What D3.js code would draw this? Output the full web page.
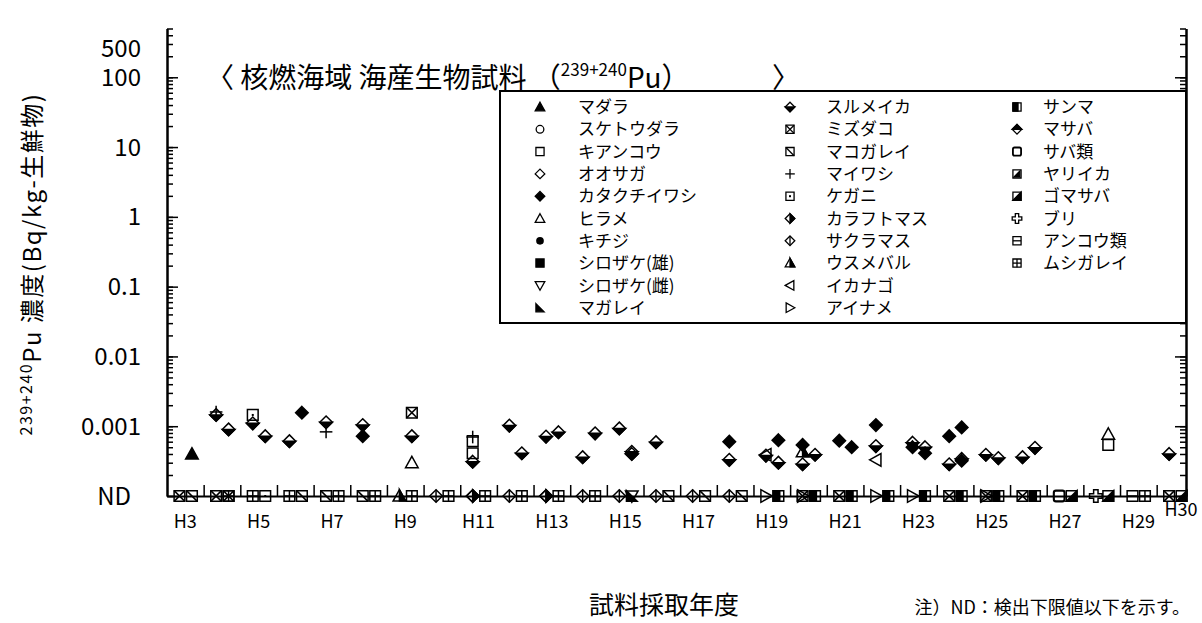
<!DOCTYPE html>
<html>
<head>
<meta charset="utf-8">
<script src="https://cdn.jsdelivr.net/npm/d3@7"></script>
<style>
  body { margin: 0; background: #fff; }
  text { font-family: "Noto Sans CJK JP", "Noto Sans", sans-serif; fill: #000; }
</style>
</head>
<body>
<svg id="chart" width="1202" height="623"></svg>
<script>
var years = ['H3','H4','H5','H6','H7','H8','H9','H10','H11','H12','H13','H14','H15','H16',
             'H17','H18','H19','H20','H21','H22','H23','H24','H25','H26','H27','H28','H29','H30'];
var xLabels = ['H3','H5','H7','H9','H11','H13','H15','H17','H19','H21','H23','H25','H27','H29','H30'];
var yTickValues = [1e-4, 1e-3, 1e-2, 0.1, 1, 10, 100, 500];
var yTickLabels = ['ND', '0.001', '0.01', '0.1', '1', '10', '100', '500'];
var ND = 1e-4;   // 検出下限値以下 -> drawn on the ND line

// [year, slot (0 = first half, 1 = second half), value Bq/kg]
var madara     = [['H3',1,4.0e-4]];
var hirame     = [['H9',1,3.0e-4], ['H28',1,7.7e-4]];
var kiankou    = [['H11',0,6.1e-4], ['H11',0,4.1e-4], ['H28',1,5.4e-4]];
var katakuchi  = [['H6',1,1.56e-3], ['H8',0,7.2e-4], ['H18',0,6.0e-4], ['H19',1,6.3e-4], ['H20',0,5.4e-4],
                  ['H21',0,6.2e-4], ['H21',1,5.0e-4], ['H22',0,1.04e-3], ['H23',0,5.0e-4], ['H23',1,4.1e-4],
                  ['H24',0,7.2e-4], ['H24',1,9.6e-4], ['H24',1,3.2e-4]];
var shirozakeF = [['H15',1,ND]];
var magarei    = [['H15',1,ND]];
var surumeika  = [['H4',0,1.45e-3], ['H4',1,9.0e-4], ['H5',0,1.1e-3], ['H5',1,7.2e-4], ['H6',0,6.1e-4],
                  ['H7',0,1.14e-3], ['H8',0,1.04e-3], ['H9',1,7.2e-4], ['H11',0,3.1e-4], ['H12',0,1.02e-3],
                  ['H12',1,4.1e-4], ['H13',0,7.1e-4], ['H13',1,8.2e-4], ['H14',0,3.6e-4], ['H14',1,7.9e-4],
                  ['H15',0,9.3e-4], ['H15',1,4.3e-4], ['H15',1,4.0e-4], ['H16',0,5.9e-4], ['H18',0,3.3e-4],
                  ['H19',0,3.8e-4], ['H19',1,3.0e-4], ['H20',0,2.85e-4], ['H20',1,3.9e-4], ['H22',0,5.2e-4],
                  ['H23',0,5.8e-4], ['H23',1,5.0e-4], ['H24',0,2.85e-4], ['H24',1,3.4e-4], ['H25',0,3.9e-4],
                  ['H25',1,3.5e-4], ['H26',0,3.6e-4], ['H26',1,4.9e-4], ['H30',0,4.0e-4]];
var mizudako   = [['H9',1,1.56e-3], ['H3',0,ND], ['H4',0,ND], ['H4',1,ND], ['H20',0,ND], ['H21',0,ND],
                  ['H24',0,ND], ['H25',0,ND], ['H26',0,ND], ['H30',0,ND]];
var makogarei  = [['H3',1,ND], ['H6',1,ND], ['H7',0,ND], ['H8',0,ND], ['H16',1,ND], ['H17',1,ND], ['H18',1,ND]];
var maiwashi   = [['H4',0,1.6e-3], ['H7',0,8.3e-4], ['H11',0,7.0e-4]];
var kegani     = [['H5',0,1.45e-3], ['H5',1,ND]];
var karafuto   = [['H11',0,ND], ['H13',0,ND]];
var sakuramasu = [['H10',0,ND], ['H11',0,ND], ['H12',0,ND], ['H13',0,ND], ['H14',0,ND], ['H15',0,ND],
                  ['H16',0,ND], ['H17',0,ND], ['H18',0,ND]];
var usumebaru  = [['H20',0,4.3e-4], ['H9',0,ND]];
var ikanago    = [['H19',0,3.9e-4], ['H22',0,3.3e-4]];
var ainame     = [['H19',0,ND], ['H20',0,ND], ['H22',0,ND], ['H23',0,ND], ['H25',0,ND]];
var sanma      = [['H19',1,ND], ['H20',1,ND], ['H21',1,ND], ['H22',1,ND], ['H23',1,ND], ['H24',1,ND],
                  ['H25',1,ND], ['H26',1,ND]];
var sabarui    = [['H27',0,ND]];
var gomasaba   = [['H27',1,ND], ['H28',1,ND], ['H30',1,ND]];
var buri       = [['H28',0,ND]];
var ankourui   = [['H29',0,ND]];
var mushigarei = [['H4',1,ND], ['H5',0,ND], ['H6',0,ND], ['H7',1,ND], ['H8',1,ND], ['H9',1,ND], ['H10',1,ND],
                  ['H11',1,ND], ['H12',1,ND], ['H13',1,ND], ['H14',1,ND], ['H29',1,ND]];

// legend order, 3 columns
var species = [
  {name:'マダラ', sym:'triFill', data:madara},
  {name:'スケトウダラ', sym:'circle', data:[]},
  {name:'キアンコウ', sym:'square', data:kiankou},
  {name:'オオサガ', sym:'diamond', data:[]},
  {name:'カタクチイワシ', sym:'diamondFill', data:katakuchi},
  {name:'ヒラメ', sym:'tri', data:hirame},
  {name:'キチジ', sym:'circleFill', data:[]},
  {name:'シロザケ(雄)', sym:'squareFill', data:[]},
  {name:'シロザケ(雌)', sym:'triDown', data:shirozakeF},
  {name:'マガレイ', sym:'corner', data:magarei},
  {name:'スルメイカ', sym:'diamondBottom', data:surumeika},
  {name:'ミズダコ', sym:'squareX', data:mizudako},
  {name:'マコガレイ', sym:'squareDiag', data:makogarei},
  {name:'マイワシ', sym:'plus', data:maiwashi},
  {name:'ケガニ', sym:'squareDot', data:kegani},
  {name:'カラフトマス', sym:'diamondRight', data:karafuto},
  {name:'サクラマス', sym:'diamondLine', data:sakuramasu},
  {name:'ウスメバル', sym:'triHalf', data:usumebaru},
  {name:'イカナゴ', sym:'triLeft', data:ikanago},
  {name:'アイナメ', sym:'triRight', data:ainame},
  {name:'サンマ', sym:'squareLeft', data:sanma},
  {name:'マサバ', sym:'diamondTop', data:[]},
  {name:'サバ類', sym:'squareRound', data:sabarui},
  {name:'ヤリイカ', sym:'squareTri', data:[]},
  {name:'ゴマサバ', sym:'squareHalf', data:gomasaba},
  {name:'ブリ', sym:'crossOpen', data:buri},
  {name:'アンコウ類', sym:'squareH', data:ankourui},
  {name:'ムシガレイ', sym:'squarePlus', data:mushigarei}
];

var svg = d3.select('#chart');
var plotLeft = 167, plotRight = 1186, plotTop = 28.5, plotBottom = 496;

var x = d3.scaleLinear().domain([0, 27.8]).range([plotLeft, plotRight]);
var y = d3.scaleLog().domain([1e-4, 500]).range([plotBottom, plotTop]);
var slotOffset = [0.34, 0.68];

// draw one marker centred on 0,0 inside g
function drawSymbol(g, type, r, sw) {
  function poly(pts, fill) {
    g.append('polygon')
      .attr('points', pts.map(function(p) { return p.join(','); }).join(' '))
      .attr('fill', fill || 'none').attr('stroke', '#000').attr('stroke-width', sw);
  }
  function seg(x1, y1, x2, y2) {
    g.append('line').attr('x1', x1).attr('y1', y1).attr('x2', x2).attr('y2', y2)
      .attr('stroke', '#000').attr('stroke-width', sw);
  }
  var q = r * 0.85;
  var dia = [[0,-r],[r,0],[0,r],[-r,0]];
  var sq = [[-q,-q],[q,-q],[q,q],[-q,q]];
  var tri = [[0,-r],[r,r*0.8],[-r,r*0.8]];
  switch (type) {
    case 'triFill': poly(tri, '#000'); break;
    case 'tri': poly(tri); break;
    case 'triDown': poly([[0,r],[r,-r*0.8],[-r,-r*0.8]]); break;
    case 'triLeft': poly([[-r,0],[r*0.8,-r],[r*0.8,r]]); break;
    case 'triRight': poly([[r,0],[-r*0.8,-r],[-r*0.8,r]]); break;
    case 'triHalf': poly([[0,-r],[r,r*0.8],[0,r*0.8]], '#000'); poly(tri); break;
    case 'corner': poly([[-q,-q],[q,q],[-q,q]], '#000'); break;
    case 'circle': g.append('circle').attr('r', r*0.8).attr('fill','none').attr('stroke','#000').attr('stroke-width',sw); break;
    case 'circleFill': g.append('circle').attr('r', r*0.8).attr('fill','#000'); break;
    case 'square': poly(sq); break;
    case 'squareFill': poly(sq, '#000'); break;
    case 'squareX': poly(sq); seg(-q,-q,q,q); seg(q,-q,-q,q); break;
    case 'squareDiag': poly(sq); seg(-q,-q,q,q); break;
    case 'squareDot': poly(sq); g.append('rect').attr('x',-1).attr('y',-1).attr('width',2).attr('height',2); break;
    case 'squarePlus': poly(sq); seg(0,-q,0,q); seg(-q,0,q,0); break;
    case 'squareH': poly(sq); seg(-q,0,q,0); break;
    case 'squareLeft': poly([[-q,-q],[q*0.25,-q],[q*0.25,q],[-q,q]], '#000'); poly(sq); break;
    case 'squareRound':
      g.append('rect').attr('x',-q).attr('y',-q).attr('width',2*q).attr('height',2*q).attr('rx',q*0.4)
        .attr('fill','none').attr('stroke','#000').attr('stroke-width',sw*1.4); break;
    case 'squareTri': poly(sq); poly([[q*0.7,-q*0.7],[q*0.7,q*0.7],[-q*0.7,q*0.7]], '#000'); break;
    case 'squareHalf': poly([[q,-q],[q,q],[-q,q]], '#000'); poly(sq); break;
    case 'diamond': poly(dia); break;
    case 'diamondFill': poly(dia, '#000'); break;
    case 'diamondBottom': poly([[-r,0],[r,0],[0,r]], '#000'); poly(dia); break;
    case 'diamondTop': poly([[-r,0],[r,0],[0,-r]], '#000'); poly(dia); break;
    case 'diamondRight': poly([[0,-r],[r,0],[0,r]], '#000'); poly(dia); break;
    case 'diamondLine': poly(dia); seg(0,-r,0,r); break;
    case 'plus': seg(-r,0,r,0); seg(0,-r,0,r); break;
    case 'crossOpen':
      var a = r*0.35;
      poly([[-a,-r],[a,-r],[a,-a],[r,-a],[r,a],[a,a],[a,r],[-a,r],[-a,a],[-r,a],[-r,-a],[-a,-a]]); break;
  }
}

// ---- axes ----
var allTicks = y.ticks().filter(function(v) { return v <= 500; });
var majorTicks = allTicks.filter(function(v) { return Math.abs(Math.log10(v) - Math.round(Math.log10(v))) < 1e-9; });

function yAxis(gen, size, vals) {
  return gen(y).tickValues(vals).tickSize(size).tickSizeOuter(0).tickFormat('');
}
var ax = svg.append('g').attr('class', 'axes');
ax.append('g').attr('transform', 'translate(' + plotLeft + ',0)').call(yAxis(d3.axisRight, 6, allTicks));
ax.append('g').attr('transform', 'translate(' + plotLeft + ',0)').call(yAxis(d3.axisRight, 11, majorTicks));
ax.append('g').attr('transform', 'translate(' + plotRight + ',0)').call(yAxis(d3.axisLeft, 6, allTicks));
ax.append('g').attr('transform', 'translate(' + plotRight + ',0)').call(yAxis(d3.axisLeft, 11, majorTicks));
ax.append('g').attr('transform', 'translate(0,' + plotBottom + ')')
  .call(d3.axisTop(x).tickValues(d3.range(1, 28)).tickSize(11).tickSizeOuter(0).tickFormat(''));
ax.selectAll('.domain').attr('stroke', '#000').attr('stroke-width', 2);
ax.selectAll('.tick line').attr('stroke', '#000').attr('stroke-width', 1.5);

// y tick labels
svg.append('g').selectAll('text')
  .data(yTickValues)
  .join('text')
  .attr('x', function(d, i) { return yTickLabels[i] === 'ND' ? 131 : 141; })
  .attr('y', function(d) { return y(d) + (d === 500 ? 20 : 0); })
  .attr('dy', '0.36em')
  .attr('text-anchor', 'end')
  .style('font-size', '24px')
  .text(function(d, i) { return yTickLabels[i]; });

// x tick labels
svg.append('g').selectAll('text')
  .data(xLabels)
  .join('text')
  .attr('x', function(d) { return d === 'H30' ? 1181 : x(years.indexOf(d) + 0.5); })
  .attr('y', function(d) { return d === 'H30' ? 510 : 522; })
  .attr('dy', '0.36em')
  .attr('text-anchor', 'middle')
  .style('font-size', '18px')
  .text(function(d) { return d; });

// ---- points ----
var points = [];
species.forEach(function(s) {
  s.data.forEach(function(d) {
    points.push({sym: s.sym, year: d[0], slot: d[1], value: d[2]});
  });
});
svg.append('g').selectAll('g')
  .data(points)
  .join('g')
  .attr('transform', function(d) {
    return 'translate(' + x(years.indexOf(d.year) + slotOffset[d.slot]) + ',' + y(d.value) + ')';
  })
  .each(function(d) { drawSymbol(d3.select(this), d.sym, 6.3, 1.5); });

// ---- legend ----
var legend = svg.append('g');
legend.append('rect').attr('x', 500).attr('y', 91).attr('width', 686).attr('height', 232)
  .attr('fill', '#fff').attr('stroke', '#000').attr('stroke-width', 2);
var colSym = [540, 790, 1017], colText = [578, 826, 1043];
var items = legend.selectAll('g.item')
  .data(species)
  .join('g')
  .attr('transform', function(d, i) {
    return 'translate(0,' + (107 + (i % 10) * 22.3) + ')';
  });
items.append('g')
  .attr('transform', function(d, i) { return 'translate(' + colSym[Math.floor(i / 10)] + ',0)'; })
  .each(function(d) { drawSymbol(d3.select(this), d.sym, 4.8, 1.3); });
items.append('text')
  .attr('x', function(d, i) { return colText[Math.floor(i / 10)]; })
  .attr('dy', '0.36em')
  .style('font-size', '17px')
  .text(function(d) { return d.name; });

// ---- titles ----
var title = svg.append('text').attr('x', 206).attr('y', 88).style('font-size', '28px');
title.append('tspan').text('〈 核燃海域  海産生物試料 （');
title.append('tspan').attr('dy', -12).style('font-size', '17px').text('239+240');
title.append('tspan').attr('dy', 12).text('Pu');
title.append('tspan').text('）');
title.append('tspan').attr('x', 772).text('〉');

var yTitle = svg.append('text')
  .attr('transform', 'translate(41,264) rotate(-90)')
  .attr('text-anchor', 'middle')
  .style('font-size', '24px')
  .style('letter-spacing', '1.5px');
yTitle.append('tspan').attr('dy', -9).style('font-size', '16px').text('239+240');
yTitle.append('tspan').attr('dy', 9).text('Pu 濃度(Bq/kg-生鮮物)');

svg.append('text').attr('x', 664).attr('y', 614).attr('text-anchor', 'middle')
  .style('font-size', '25px').text('試料採取年度');
svg.append('text').attr('x', 1190).attr('y', 614).attr('text-anchor', 'end')
  .style('font-size', '18px').text('注）ND：検出下限値以下を示す。');
</script>
</body>
</html>
